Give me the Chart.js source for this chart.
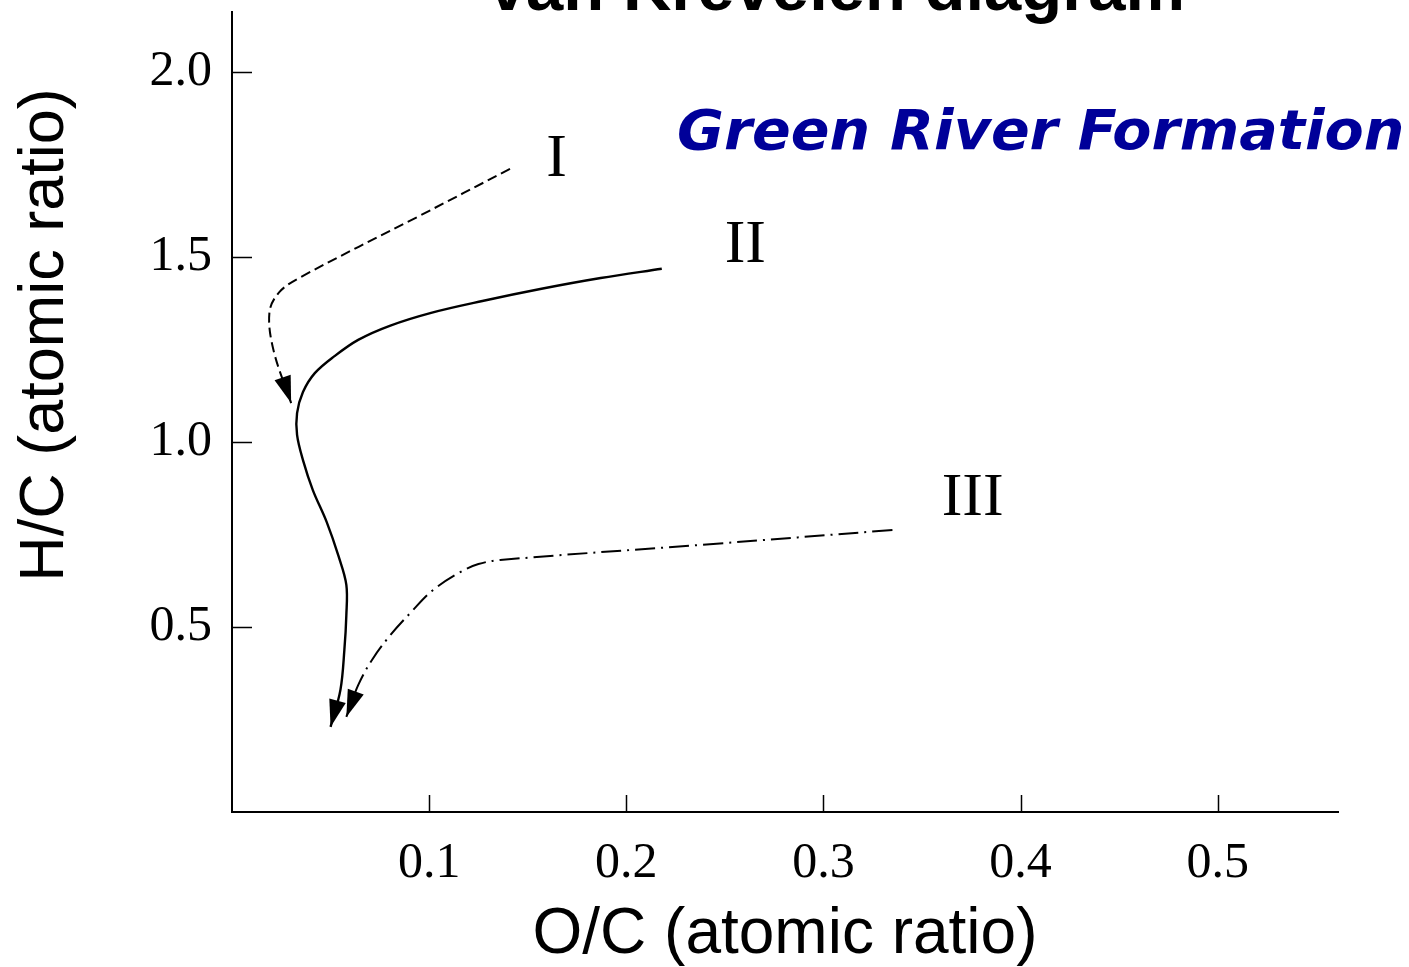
<!DOCTYPE html>
<html>
<head>
<meta charset="utf-8">
<title>van Krevelen diagram</title>
<script src="https://cdn.jsdelivr.net/npm/chart.js@4.4.1/dist/chart.umd.min.js"></script>
<style>
  html, body { margin: 0; padding: 0; background: #fff; }
  canvas { display: block; }
</style>
</head>
<body>
<canvas id="vkChart" width="1409" height="967"></canvas>
<script>
// maturation paths (O/C, H/C) for the three kerogen types
const ocTypeI = [0.141, 0.094, 0.035, 0.024, 0.019, 0.021, 0.030];
const hcTypeI = [1.738, 1.608, 1.446, 1.405, 1.351, 1.249, 1.105];

const ocTypeII = [0.218, 0.187, 0.157, 0.127, 0.101, 0.080, 0.064, 0.052, 0.042, 0.036, 0.033, 0.033, 0.036, 0.041, 0.048, 0.054, 0.058, 0.058, 0.057, 0.055, 0.050];
const hcTypeII = [1.468, 1.443, 1.414, 1.381, 1.349, 1.314, 1.276, 1.232, 1.186, 1.135, 1.078, 1.019, 0.951, 0.870, 0.784, 0.692, 0.614, 0.532, 0.438, 0.330, 0.230];

const ocTypeIII = [0.335, 0.238, 0.136, 0.125, 0.116, 0.102, 0.091, 0.080, 0.071, 0.064, 0.058];
const hcTypeIII = [0.762, 0.722, 0.681, 0.670, 0.649, 0.600, 0.541, 0.476, 0.411, 0.343, 0.257];

// type labels and where they sit (O/C, H/C of the text baseline centre)
const typeNames = ["I", "II", "III"];
const typeNameOC = [0.1646, 0.2604, 0.3757];
const typeNameHC = [1.719, 1.486, 0.803];

const ocTicks = [0.1, 0.2, 0.3, 0.4, 0.5];
const hcTicks = [0.5, 1.0, 1.5, 2.0];

const toPoints = (xs, ys) => xs.map((v, i) => ({ x: v, y: ys[i] }));

const pathStyle = (dash, width) => ({
    showLine: true,
    borderColor: "#000",
    borderWidth: width,
    borderDash: dash,
    pointRadius: 0,
    pointHoverRadius: 0,
    tension: 0.35,
    fill: false
});

const data = {
    datasets: [
        Object.assign({ label: "Type I", data: toPoints(ocTypeI, hcTypeI) }, pathStyle([10, 5], 2)),
        Object.assign({ label: "Type II", data: toPoints(ocTypeII, hcTypeII) }, pathStyle([], 2.4)),
        Object.assign({ label: "Type III", data: toPoints(ocTypeIII, hcTypeIII) }, pathStyle([20, 6, 2, 6], 2))
    ]
};

// filled arrowhead at the end of each path
const arrowHeads = {
    id: "arrowHeads",
    afterDatasetsDraw(chart) {
        const ctx = chart.ctx;
        ctx.save();
        ctx.fillStyle = "#000";
        chart.data.datasets.forEach((ds, i) => {
            const pts = chart.getDatasetMeta(i).data;
            const tip = pts[pts.length - 1];
            const prev = pts[pts.length - 2];
            const a = Math.atan2(tip.y - prev.y, tip.x - prev.x);
            const len = 27, half = 8.5;
            const bx = tip.x - len * Math.cos(a), by = tip.y - len * Math.sin(a);
            ctx.beginPath();
            ctx.moveTo(tip.x, tip.y);
            ctx.lineTo(bx + half * Math.sin(a), by - half * Math.cos(a));
            ctx.lineTo(bx - half * Math.sin(a), by + half * Math.cos(a));
            ctx.closePath();
            ctx.fill();
        });
        ctx.restore();
    }
};

// inward tick marks, y title, type names, headings
const decorations = {
    id: "decorations",
    afterDraw(chart) {
        const { ctx, chartArea, scales: { x, y } } = chart;
        ctx.save();
        ctx.strokeStyle = "#000";
        ctx.lineWidth = 1.5;
        ctx.beginPath();
        x.ticks.forEach(t => {
            const px = Math.round(x.getPixelForValue(t.value)) + 0.5;
            ctx.moveTo(px, chartArea.bottom);
            ctx.lineTo(px, chartArea.bottom - 17);
        });
        y.ticks.forEach(t => {
            const py = Math.round(y.getPixelForValue(t.value)) + 0.5;
            ctx.moveTo(chartArea.left, py);
            ctx.lineTo(chartArea.left + 20, py);
        });
        ctx.stroke();

        ctx.fillStyle = "#000";
        ctx.font = "62px 'Liberation Serif'";
        ctx.textAlign = "center";
        ctx.textBaseline = "alphabetic";
        typeNames.forEach((name, i) => {
            ctx.fillText(name, x.getPixelForValue(typeNameOC[i]), y.getPixelForValue(typeNameHC[i]));
        });

        ctx.save();
        ctx.translate(63, 335);
        ctx.rotate(-Math.PI / 2);
        ctx.font = "63px 'Liberation Sans'";
        ctx.fillText("H/C (atomic ratio)", 0, 0);
        ctx.restore();

        ctx.font = "bold 67px 'Liberation Sans'";
        ctx.fillText("van Krevelen diagram", 837, 10);

        ctx.save();
        ctx.translate(677, 149);
        ctx.scale(1.02, 1);
        ctx.textAlign = "left";
        ctx.fillStyle = "#000099";
        ctx.font = "bold oblique 56px 'DejaVu Sans'";
        ctx.fillText("Green River Formation", 0, 0);
        ctx.restore();

        ctx.restore();
    }
};

const noEdgePadding = s => {
    s.paddingTop = 0;
    s.paddingBottom = 0;
    s.paddingLeft = 0;
    s.paddingRight = 0;
};

const options = {
    responsive: false,
    animation: false,
    events: [],
    layout: { padding: { top: 12, right: 71, left: 0, bottom: 0 } },
    plugins: {
        legend: { display: false },
        tooltip: { enabled: false }
    },
    scales: {
        x: {
            type: "linear",
            min: 0,
            max: 0.561,
            afterBuildTicks: s => { s.ticks = ocTicks.map(v => ({ value: v })); },
            afterFit: s => { s.height = 155; noEdgePadding(s); },
            grid: { display: false, drawTicks: false },
            border: { display: true, color: "#000", width: 2 },
            ticks: {
                color: "#000",
                padding: 22,
                maxRotation: 0,
                font: { family: "Liberation Serif", size: 50 },
                callback: v => v.toFixed(1)
            },
            title: {
                display: true,
                text: "O/C (atomic ratio)",
                color: "#000",
                padding: { top: 0, bottom: 0 },
                font: { family: "Liberation Sans", size: 64, lineHeight: 1.0 }
            }
        },
        y: {
            type: "linear",
            min: 0,
            max: 2.162,
            afterBuildTicks: s => { s.ticks = hcTicks.map(v => ({ value: v })); },
            afterFit: s => { s.width = 232; noEdgePadding(s); },
            grid: { display: false, drawTicks: false },
            border: { display: true, color: "#000", width: 2 },
            ticks: {
                color: "#000",
                padding: 20,
                font: { family: "Liberation Serif", size: 50 },
                callback: v => v.toFixed(1)
            }
        }
    }
};

new Chart(document.getElementById("vkChart"), {
    type: "scatter",
    data: data,
    options: options,
    plugins: [arrowHeads, decorations]
});
</script>
</body>
</html>
